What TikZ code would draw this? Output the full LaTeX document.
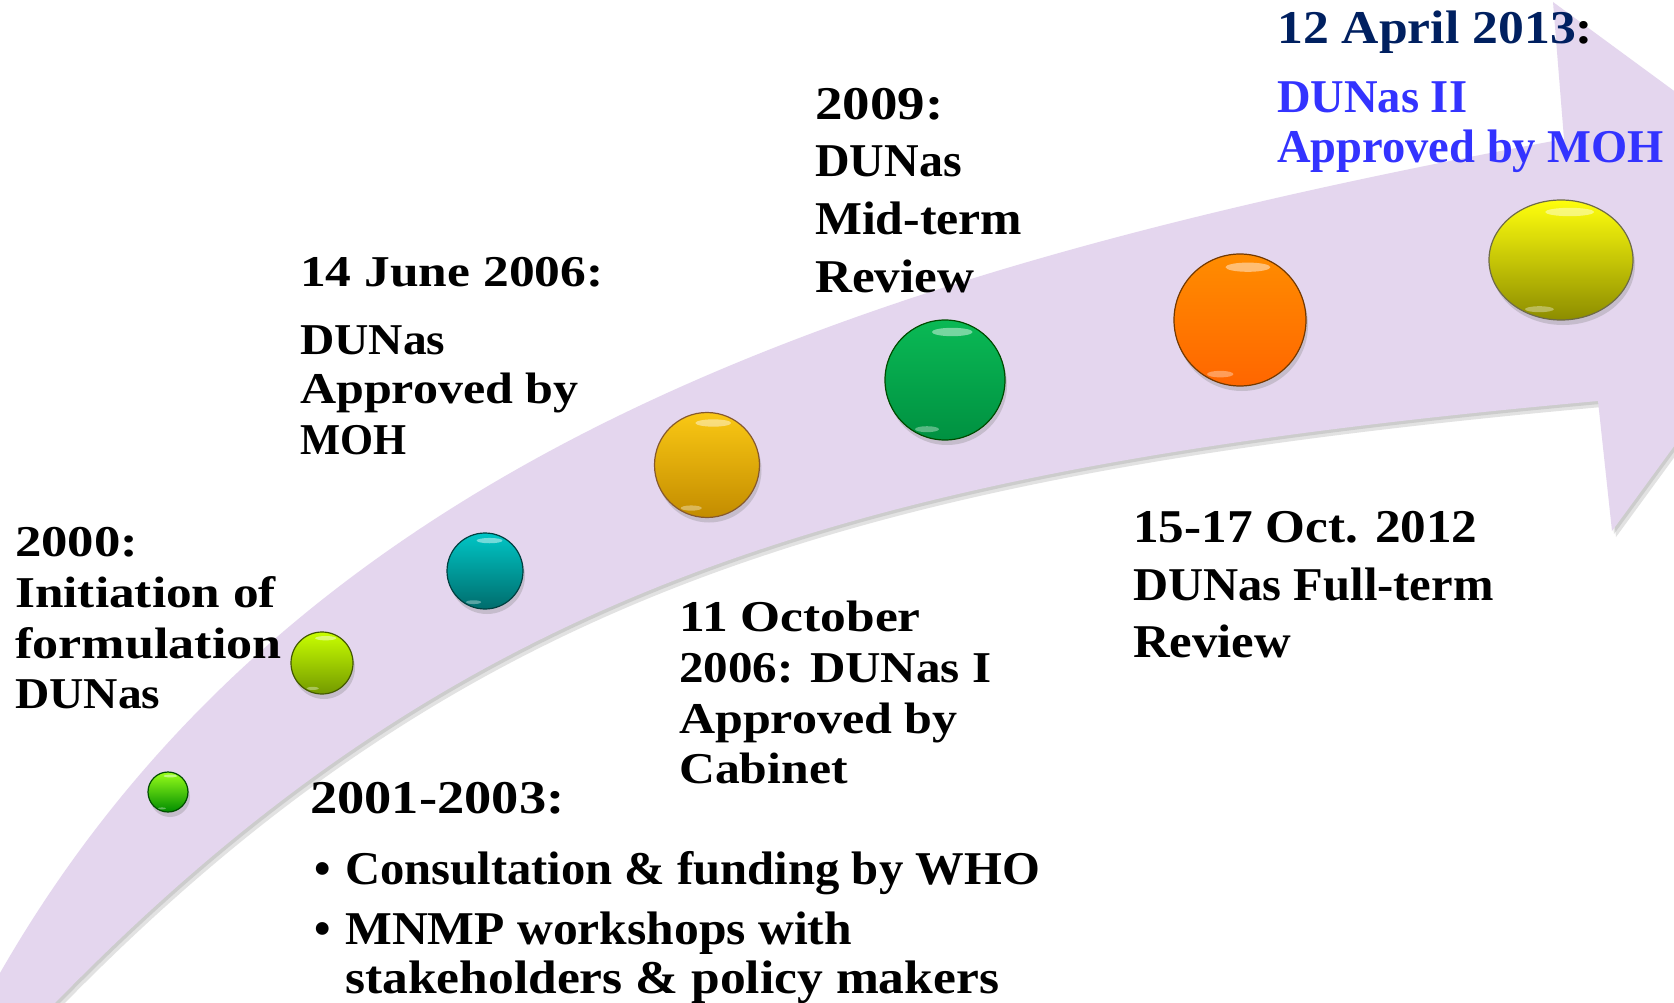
\documentclass[tikz,border=0pt]{standalone}
\usepackage{fontspec}
\setmainfont{Liberation Serif}
\usetikzlibrary{shapes.geometric,shadows}
\definecolor{bandcol}{RGB}{228,214,238}
\definecolor{navy}{RGB}{0,32,96}
\definecolor{brightblue}{RGB}{51,51,255}
\definecolor{goldtop}{RGB}{250,200,20}
\definecolor{goldbot}{RGB}{195,140,0}
\definecolor{emtop}{RGB}{10,185,85}
\definecolor{embot}{RGB}{0,145,65}
\newcommand\bandshape[1]{%
  \fill[#1] (-40,1045) -- (0,973) .. controls (300,450) and (870,268) .. (1564,139)
   -- (1553,2) -- (1843,215) -- (1612,531) -- (1598,401)
   .. controls (848,468.5) and (460,588) .. (55,1003) -- (0,1050) -- cycle;}
\newcommand\mkball[8]{%
  \node[ballstyle, minimum width=2*#4pt, minimum height=2*#5pt, top color=#6, bottom color=#7, draw=#8] (#1) at (#2,#3) {};
  \fill[white, opacity=0.45] (#2+0.12*#4, #3-0.8*#5) ellipse [x radius=0.34*#4, y radius=0.07*#5];
  \fill[white, opacity=0.35] (#2-0.3*#4, #3+0.82*#5) ellipse [x radius=0.2*#4, y radius=0.05*#5];
}
\newcommand\sx[2]{{\addfontfeatures{FakeStretch=#1}#2}}
\begin{document}
\begin{tikzpicture}[x=1pt,y=-1pt,
  lbl/.style={anchor=base west, inner sep=0pt, font=\bfseries\fontsize{44}{50}\selectfont},
  lblb/.style={anchor=base west, inner sep=0pt, font=\bfseries\fontsize{47}{54}\selectfont},
  ballstyle/.style={ellipse, inner sep=0pt, line width=1.2pt,
    drop shadow={opacity=0.3, shadow xshift=2pt, shadow yshift=-5pt}}]
\useasboundingbox (0,0) rectangle (1674,1003);
\fill[white] (0,0) rectangle (1674,1003);
\clip (0,0) rectangle (1674,1003);
% arrow band with shadow
\bandshape{black!45, opacity=0.25, shift={(4,6)}}
\bandshape{black!45, opacity=0.25, shift={(2,3)}}
\bandshape{bandcol}
% balls
\mkball{b1}{168}{792}{20}{20}{green!45!yellow!90!white}{green!55!black}{green!30!black}
\mkball{b2}{322}{663}{31}{31}{lime!85!yellow}{lime!60!black}{lime!35!black}
\mkball{b3}{485}{571}{38}{38}{cyan!55!teal}{teal!85!black}{teal!50!black}
\mkball{b4}{707}{465}{52.5}{52.5}{goldtop}{goldbot}{brown!70!black}
\mkball{b5}{945}{380}{60}{60}{emtop}{embot}{green!30!black}
\mkball{b6}{1240}{320}{66}{66}{orange!90!yellow}{orange!80!red}{orange!45!black}
\mkball{b7}{1561}{260}{72}{60}{yellow!95!white}{yellow!55!black}{yellow!35!black}
% block A
\node[lbl] (a1) at (15,556) {\sx{1.2}{2000:}};
\node[lbl] (a2) at (15,607) {\sx{1.166}{Initiation of}};
\node[lbl] (a3) at (15,658) {\sx{1.185}{formulation}};
\node[lbl] (a4) at (15,708) {\sx{1.08}{DUNas}};
% block B
\node[lbl] (bb1) at (300,287) {\sx{1.17}{14 June 2006:}};
\node[lbl] (bb2) at (300,354) {\sx{1.08}{DUNas}};
\node[lbl] (bb3) at (300,403) {\sx{1.137}{Approved by}};
\node[lbl] (bb4) at (300,454) {\sx{0.965}{MOH}};
% block C
\node[lblb] (c1) at (815,120) {\sx{1.17}{2009:}};
\node[lblb] (c2) at (815,177) {\sx{1.02}{DUNas}};
\node[lblb] (c3) at (815,235) {\sx{1.058}{Mid-term}};
\node[lblb] (c4) at (815,292) {\sx{1.087}{Review}};
% block D
\node[lbl] (d1) at (679,631) {\sx{1.17}{11 October}};
\node[lbl] (d2) at (679,682) {\sx{1.115}{2006: DUNas I}};
\node[lbl] (d3) at (679,733) {\sx{1.137}{Approved by}};
\node[lbl] (d4) at (679,783) {\sx{1.13}{Cabinet}};
% block E
\node[lblb] (e1) at (1133,542) {\sx{1.09}{15-17 Oct. 2012}};
\node[lblb] (e2) at (1133,600) {\sx{1.034}{DUNas Full-term}};
\node[lblb] (e3) at (1133,657) {\sx{1.08}{Review}};
% block F
\node[lblb] (f1) at (310,813) {\sx{1.16}{2001-2003:}};
\node[lblb] (f2b) at (314,884) {•};
\node[lblb] (f2) at (345,884) {\sx{1.035}{Consultation \& funding by WHO}};
\node[lblb] (f3b) at (314,944) {•};
\node[lblb] (f3) at (345,944) {\sx{1.055}{MNMP workshops with}};
\node[lblb] (f4) at (345,993) {\sx{1.096}{stakeholders \& policy makers}};
% block G
\node[lblb] (g1) at (1277,44) {\sx{1.10}{\textcolor{navy}{12 April 2013}:}};
\node[lblb, text=brightblue] (g2) at (1277,113) {\sx{0.99}{DUNas II}};
\node[lblb, text=brightblue] (g3) at (1277,163) {\sx{0.99}{Approved by MOH}};
\end{tikzpicture}
\end{document}
